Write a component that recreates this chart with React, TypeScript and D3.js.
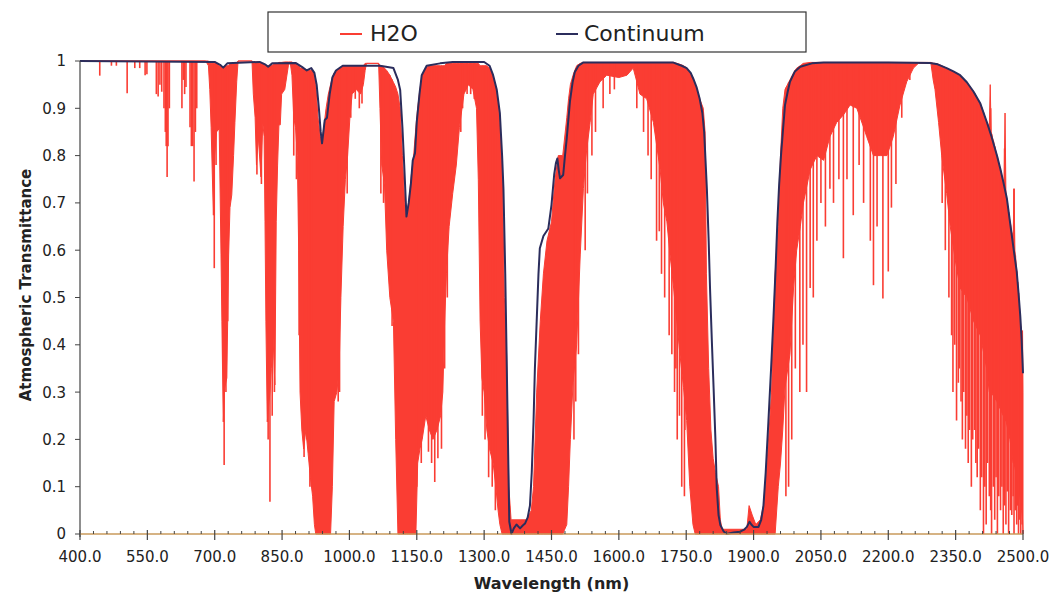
import React from "react";
import * as d3 from "d3";

const W = 1056;
const H = 597;

const xMajorTicks = [400, 550, 700, 850, 1000, 1150, 1300, 1450, 1600, 1750, 1900, 2050, 2200, 2350, 2500];
const yTickValues = [0, 0.1, 0.2, 0.3, 0.4, 0.5, 0.6, 0.7, 0.8, 0.9, 1];
const yTickLabels = ["0", "0.1", "0.2", "0.3", "0.4", "0.5", "0.6", "0.7", "0.8", "0.9", "1"];
const legendLabels = ["H2O", "Continuum"];

// Continuum transmittance: [wavelength nm, transmittance]
const continuum: [number, number][] = [
  [400, 1.0], [700, 0.998], [712, 0.992], [719, 0.986], [728, 0.995], [800, 0.998], [812, 0.993],
  [819, 0.988], [828, 0.995], [880, 0.996], [895, 0.987], [905, 0.98], [915, 0.985], [922, 0.975],
  [927, 0.95], [932, 0.9], [936, 0.85], [939, 0.826], [942, 0.85], [945, 0.875], [950, 0.88],
  [956, 0.93], [962, 0.965], [970, 0.98], [985, 0.99], [1068, 0.99], [1098, 0.985], [1108, 0.96],
  [1113, 0.939], [1118, 0.86], [1122, 0.78], [1127, 0.671], [1132, 0.7], [1137, 0.742],
  [1141, 0.79], [1146, 0.805], [1150, 0.872], [1156, 0.93], [1161, 0.97], [1172, 0.99],
  [1202, 0.995], [1230, 0.998], [1300, 0.998], [1312, 0.99], [1320, 0.97], [1328, 0.94],
  [1335, 0.89], [1340, 0.8], [1343, 0.73], [1347, 0.55], [1350, 0.378], [1353, 0.2],
  [1356, 0.026], [1361, 0.0], [1366, 0.012], [1372, 0.02], [1380, 0.012], [1386, 0.018],
  [1391, 0.022], [1397, 0.035], [1402, 0.06], [1406, 0.13], [1410, 0.237], [1413, 0.35],
  [1417, 0.45], [1421, 0.55], [1424, 0.604], [1432, 0.63], [1443, 0.646], [1450, 0.696],
  [1456, 0.76], [1460, 0.785], [1463, 0.794], [1466, 0.77], [1469, 0.752], [1476, 0.759],
  [1480, 0.8], [1484, 0.837], [1491, 0.914], [1497, 0.955], [1502, 0.977], [1510, 0.99],
  [1521, 0.997], [1720, 0.997], [1740, 0.99], [1751, 0.985], [1760, 0.975], [1766, 0.962],
  [1773, 0.945], [1780, 0.92], [1786, 0.89], [1790, 0.85], [1793, 0.79], [1796, 0.73],
  [1800, 0.62], [1803, 0.52], [1807, 0.41], [1811, 0.308], [1815, 0.2], [1818, 0.097],
  [1822, 0.04], [1826, 0.019], [1833, 0.006], [1840, 0.0], [1855, 0.003], [1870, 0.005],
  [1880, 0.01], [1885, 0.015], [1891, 0.026], [1895, 0.02], [1900, 0.015], [1911, 0.015],
  [1917, 0.03], [1922, 0.06], [1927, 0.13], [1933, 0.237], [1939, 0.35], [1944, 0.45],
  [1949, 0.56], [1953, 0.66], [1957, 0.74], [1961, 0.8], [1966, 0.86], [1970, 0.907],
  [1976, 0.935], [1981, 0.956], [1992, 0.978], [2004, 0.988], [2030, 0.995], [2056, 0.997],
  [2200, 0.997], [2293, 0.996], [2310, 0.993], [2330, 0.985], [2345, 0.978], [2360, 0.97],
  [2375, 0.955], [2390, 0.935], [2405, 0.91], [2419, 0.872], [2430, 0.84], [2442, 0.8],
  [2450, 0.77], [2456, 0.745], [2464, 0.71], [2471, 0.66], [2478, 0.61], [2486, 0.555],
  [2490, 0.51], [2494, 0.46], [2497, 0.41], [2500, 0.34],
];

// H2O dense absorption bands: [wavelength nm, upper transmittance, lower transmittance]
const h2oBand: [number, number, number][] = [
  [400, 1, 1], [680, 1, 1], [686, 1, 0.99], [689, 0.995, 0.94], [692, 0.995, 0.86],
  [697, 0.995, 0.674], [700, 0.995, 0.8], [704, 0.995, 0.85], [710, 0.99, 0.857],
  [714, 0.988, 0.59], [716, 0.988, 0.45], [719, 0.986, 0.237], [722, 0.988, 0.308],
  [727, 0.99, 0.33], [731, 0.99, 0.59], [734, 0.995, 0.69], [738, 0.995, 0.717],
  [742, 0.995, 0.8], [745, 0.995, 0.87], [749, 0.995, 0.956], [752, 1, 1], [783, 1, 1],
  [786, 0.998, 0.93], [790, 0.998, 0.88], [793, 0.998, 0.78], [797, 0.998, 0.84],
  [803, 0.995, 0.755], [807, 0.995, 0.87], [810, 0.995, 0.84], [812, 0.992, 0.66],
  [814, 0.99, 0.45], [817, 0.99, 0.237], [820, 0.99, 0.27], [823, 0.99, 0.3],
  [826, 0.99, 0.35], [830, 0.992, 0.414], [834, 0.995, 0.315], [837, 0.995, 0.66],
  [840, 0.995, 0.78], [843, 0.997, 0.865], [846, 0.997, 0.865], [849, 0.997, 0.93],
  [856, 0.998, 0.94], [864, 0.998, 0.99], [868, 0.998, 0.998], [872, 0.998, 0.97],
  [876, 0.995, 0.88], [880, 0.995, 0.86], [884, 0.99, 0.8], [887, 0.99, 0.6],
  [890, 0.985, 0.3], [894, 0.985, 0.22], [898, 0.985, 0.18], [903, 0.982, 0.22],
  [908, 0.98, 0.17], [913, 0.98, 0.12], [918, 0.98, 0.08], [922, 0.97, 0.02],
  [925, 0.95, 0], [930, 0.88, 0], [935, 0.84, 0], [939, 0.83, 0], [943, 0.86, 0],
  [948, 0.9, 0], [953, 0.93, 0], [958, 0.95, 0], [962, 0.965, 0.1], [966, 0.975, 0.28],
  [972, 0.98, 0.3], [977, 0.985, 0.35], [981, 0.985, 0.5], [986, 0.99, 0.65],
  [991, 0.99, 0.75], [996, 0.99, 0.8], [1001, 0.99, 0.88], [1006, 0.99, 0.93],
  [1015, 0.99, 0.94], [1025, 0.99, 0.93], [1031, 0.99, 0.95], [1035, 0.995, 0.98],
  [1038, 0.995, 0.995], [1065, 0.995, 0.995], [1068, 0.99, 0.9], [1072, 0.99, 0.78],
  [1078, 0.985, 0.74], [1083, 0.98, 0.6], [1090, 0.97, 0.5], [1098, 0.955, 0.45],
  [1103, 0.945, 0.2], [1108, 0.93, 0], [1113, 0.9, 0], [1118, 0.8, 0], [1123, 0.7, 0],
  [1127, 0.67, 0], [1132, 0.7, 0], [1138, 0.76, 0], [1143, 0.8, 0], [1148, 0.86, 0],
  [1152, 0.9, 0.15], [1157, 0.94, 0.18], [1162, 0.97, 0.2], [1170, 0.985, 0.25],
  [1178, 0.99, 0.22], [1186, 0.99, 0.2], [1195, 0.99, 0.22], [1203, 0.99, 0.25],
  [1208, 0.99, 0.3], [1212, 0.99, 0.45], [1216, 0.995, 0.55], [1222, 0.995, 0.65],
  [1230, 0.995, 0.72], [1238, 0.995, 0.78], [1245, 0.995, 0.86], [1255, 0.995, 0.93],
  [1265, 0.995, 0.95], [1275, 0.995, 0.94], [1283, 0.995, 0.9], [1287, 0.995, 0.75],
  [1291, 0.99, 0.45], [1295, 0.99, 0.33], [1300, 0.99, 0.3], [1306, 0.99, 0.22],
  [1312, 0.985, 0.18], [1320, 0.97, 0.15], [1326, 0.94, 0.1], [1331, 0.91, 0.05],
  [1335, 0.87, 0.02], [1340, 0.78, 0], [1345, 0.5, 0], [1350, 0.38, 0], [1355, 0.1, 0],
  [1360, 0.03, 0], [1380, 0.03, 0], [1395, 0.03, 0], [1405, 0.05, 0], [1410, 0.1, 0],
  [1417, 0.3, 0], [1425, 0.45, 0], [1432, 0.55, 0], [1440, 0.62, 0], [1450, 0.66, 0],
  [1458, 0.75, 0], [1465, 0.8, 0], [1475, 0.8, 0], [1484, 0.88, 0.02], [1488, 0.92, 0.1],
  [1492, 0.95, 0.2], [1498, 0.97, 0.32], [1506, 0.99, 0.4], [1514, 0.995, 0.59],
  [1521, 0.997, 0.73], [1528, 0.997, 0.81], [1536, 0.997, 0.87], [1543, 0.997, 0.93],
  [1558, 0.997, 0.956], [1573, 0.997, 0.97], [1600, 0.997, 0.965], [1618, 0.997, 0.97],
  [1632, 0.997, 0.985], [1640, 0.997, 0.956], [1647, 0.997, 0.93], [1662, 0.997, 0.92],
  [1677, 0.997, 0.87], [1692, 0.997, 0.77], [1699, 0.997, 0.7], [1707, 0.997, 0.66],
  [1714, 0.997, 0.59], [1722, 0.997, 0.52], [1729, 0.995, 0.45], [1736, 0.993, 0.38],
  [1744, 0.99, 0.31], [1751, 0.985, 0.24], [1758, 0.975, 0.1], [1765, 0.965, 0.02],
  [1770, 0.95, 0], [1780, 0.92, 0], [1788, 0.9, 0], [1792, 0.85, 0], [1795, 0.55, 0],
  [1800, 0.35, 0], [1805, 0.22, 0], [1810, 0.16, 0], [1815, 0.13, 0], [1822, 0.1, 0],
  [1826, 0.03, 0], [1830, 0.01, 0], [1885, 0.01, 0], [1890, 0.06, 0], [1897, 0.04, 0],
  [1905, 0.02, 0], [1915, 0.03, 0], [1922, 0.06, 0], [1930, 0.15, 0], [1940, 0.3, 0],
  [1948, 0.55, 0], [1955, 0.65, 0.1], [1960, 0.8, 0.15], [1965, 0.9, 0.22],
  [1970, 0.94, 0.31], [1981, 0.96, 0.38], [1989, 0.975, 0.52], [1996, 0.985, 0.6],
  [2004, 0.99, 0.65], [2011, 0.995, 0.7], [2026, 0.997, 0.77], [2041, 0.997, 0.8],
  [2056, 0.997, 0.79], [2070, 0.997, 0.84], [2085, 0.997, 0.87], [2100, 0.997, 0.886],
  [2115, 0.997, 0.907], [2130, 0.997, 0.9], [2145, 0.997, 0.86], [2152, 0.997, 0.84],
  [2167, 0.997, 0.8], [2182, 0.997, 0.8], [2197, 0.997, 0.8], [2211, 0.997, 0.84],
  [2226, 0.997, 0.907], [2241, 0.997, 0.956], [2256, 0.997, 0.985], [2267, 0.997, 0.995],
  [2295, 0.997, 0.995], [2300, 0.995, 0.96], [2304, 0.995, 0.94], [2312, 0.993, 0.87],
  [2319, 0.99, 0.8], [2330, 0.985, 0.72], [2338, 0.98, 0.65], [2349, 0.975, 0.58],
  [2360, 0.97, 0.52], [2375, 0.955, 0.5], [2390, 0.935, 0.45], [2405, 0.91, 0.42],
  [2419, 0.872, 0.35], [2425, 0.86, 0.3], [2427, 0.95, 0.3], [2429, 0.85, 0.3],
  [2442, 0.8, 0.28], [2456, 0.745, 0.25], [2458, 0.74, 0.25], [2460, 0.89, 0.24],
  [2462, 0.72, 0.24], [2471, 0.66, 0.2], [2478, 0.62, 0.15], [2480, 0.73, 0.15],
  [2482, 0.6, 0.14], [2490, 0.51, 0.1], [2497, 0.41, 0.05], [2499, 0.43, 0.03], [2500, 0.3, 0],
];

// Individual H2O absorption lines: [wavelength nm, minimum transmittance]
const h2oLines: [number, number][] = [
  [444, 0.969], [470, 0.99], [481, 0.99], [505, 0.932], [522, 0.985], [533, 0.985],
  [545, 0.97], [549, 0.972], [570, 0.93], [574, 0.925], [578, 0.95], [582, 0.935],
  [587, 0.9], [590, 0.85], [592, 0.82], [594, 0.755], [596, 0.82], [599, 0.9],
  [627, 0.9], [630, 0.96], [633, 0.93], [636, 0.945], [645, 0.86], [648, 0.82],
  [651, 0.82], [654, 0.745], [657, 0.85], [660, 0.9],
  [699, 0.562], [703, 0.78], [718, 0.35], [721, 0.146], [725, 0.3], [729, 0.45],
  [794, 0.76], [804, 0.74], [819, 0.2], [823, 0.068], [828, 0.25], [833, 0.3],
  [876, 0.8], [882, 0.75], [888, 0.42], [899, 0.163], [905, 0.2], [912, 0.1], [916, 0.1],
  [975, 0.28], [978, 0.3], [995, 0.72], [1003, 0.88], [1013, 0.92], [1022, 0.9], [1028, 0.91],
  [1070, 0.72], [1076, 0.7], [1090, 0.53], [1095, 0.44], [1150, 0.1], [1160, 0.15],
  [1176, 0.174], [1183, 0.15], [1190, 0.11], [1197, 0.16], [1205, 0.18], [1212, 0.35],
  [1218, 0.5], [1248, 0.85], [1252, 0.9], [1262, 0.93], [1270, 0.93], [1278, 0.92],
  [1296, 0.25], [1302, 0.2], [1310, 0.12], [1318, 0.1], [1325, 0.05],
  [1500, 0.2], [1504, 0.28], [1510, 0.38], [1525, 0.6], [1530, 0.72], [1540, 0.8],
  [1548, 0.85], [1565, 0.9], [1580, 0.93], [1590, 0.94], [1640, 0.9], [1655, 0.85],
  [1665, 0.8], [1672, 0.75], [1684, 0.62], [1690, 0.64], [1695, 0.55], [1702, 0.5],
  [1712, 0.42], [1718, 0.38], [1724, 0.3], [1727, 0.35], [1730, 0.2], [1735, 0.25],
  [1740, 0.1], [1746, 0.08], [1747, 0.22],
  [1972, 0.08], [1978, 0.1], [1985, 0.2], [1993, 0.35], [2003, 0.3], [2010, 0.4],
  [2018, 0.3], [2026, 0.52], [2033, 0.5], [2041, 0.62], [2050, 0.7], [2060, 0.65],
  [2070, 0.73], [2078, 0.7], [2090, 0.75], [2100, 0.583], [2108, 0.75], [2122, 0.674],
  [2135, 0.78], [2145, 0.7], [2160, 0.62], [2167, 0.526], [2175, 0.65], [2188, 0.498],
  [2200, 0.555], [2207, 0.69], [2217, 0.74], [2230, 0.88], [2248, 0.96],
  [2320, 0.7], [2327, 0.6], [2335, 0.5], [2341, 0.42], [2344, 0.3], [2348, 0.4],
  [2352, 0.24], [2356, 0.32], [2358, 0.35], [2362, 0.28], [2365, 0.2], [2368, 0.3],
  [2372, 0.18], [2375, 0.25], [2378, 0.15], [2381, 0.22], [2385, 0.1], [2388, 0.2],
  [2392, 0.22], [2395, 0.15], [2398, 0.12], [2401, 0.18], [2405, 0.05], [2408, 0.12],
  [2412, 0.0], [2415, 0.1], [2418, 0.02], [2421, 0.15], [2425, 0.08], [2428, 0.05],
  [2430, 0.0], [2434, 0.1], [2437, 0.03], [2440, 0.12], [2443, 0.0], [2446, 0.08],
  [2450, 0.05], [2453, 0.1], [2456, 0.0], [2459, 0.06], [2462, 0.02], [2465, 0.09],
  [2468, 0.0], [2472, 0.05], [2475, 0.04], [2478, 0.08], [2480, 0.0], [2483, 0.05],
  [2486, 0.02], [2488, 0.06], [2490, 0.0], [2493, 0.03], [2495, 0.0], [2498, 0.02],
];

const RED = "#fa3d33";
const NAVY = "#2b2d5c";
const FONT = "'DejaVu Sans', Arial, sans-serif";

export default function App() {
  const left = 80, right = 1023, top = 61, bottom = 534;
  const x = d3.scaleLinear().domain([400, 2500]).range([left, right]);
  const y = d3.scaleLinear().domain([0, 1]).range([bottom, top]);

  const area = d3.area<[number, number, number]>()
    .x((d) => x(d[0]))
    .y0((d) => y(d[2]))
    .y1((d) => y(d[1]));

  const line = d3.line<[number, number]>()
    .x((d) => x(d[0]))
    .y((d) => y(d[1]));

  const upperAt = d3.scaleLinear()
    .domain(h2oBand.map((d) => d[0]))
    .range(h2oBand.map((d) => d[1]));

  const minorTicks = d3.range(400, 2501, 30).filter((v) => (v - 400) % 150 !== 0);

  return (
    <svg width={W} height={H} style={{ position: "absolute", left: 0, top: 0, background: "#fff" }}>
      {/* Legend */}
      <rect x={268} y={12} width={538} height={40} fill="#fff" stroke="#333" strokeWidth={1.2} />
      <line x1={340} x2={362} y1={34} y2={34} stroke={RED} strokeWidth={2} />
      <text x={370} y={41} fontFamily={FONT} fontSize={22} fill="#222">{legendLabels[0]}</text>
      <line x1={556} x2={578} y1={34} y2={34} stroke={NAVY} strokeWidth={2} />
      <text x={584} y={41} fontFamily={FONT} fontSize={22} fill="#222">{legendLabels[1]}</text>

      {/* H2O */}
      <path d={area(h2oBand) || ""} fill={RED} stroke={RED} strokeWidth={1} />
      {h2oLines.map((d, i) => (
        <line key={i} x1={x(d[0])} x2={x(d[0])} y1={y(upperAt(d[0]))} y2={y(d[1])}
          stroke={RED} strokeWidth={1.6} />
      ))}

      {/* Continuum */}
      <path d={line(continuum) || ""} fill="none" stroke={NAVY} strokeWidth={2} strokeLinejoin="round" />

      {/* Axes */}
      <line x1={left} x2={left} y1={top} y2={bottom + 3} stroke="#444" strokeWidth={1.2} />
      <line x1={left} x2={right} y1={bottom} y2={bottom} stroke="#c99a5b" strokeWidth={1.3} />
      {yTickValues.map((v, i) => (
        <g key={i}>
          <line x1={left - 5} x2={left} y1={y(v)} y2={y(v)} stroke="#444" strokeWidth={1} />
          <text x={left - 14} y={y(v)} dy="0.36em" textAnchor="end" fontFamily={FONT} fontSize={15} fill="#222">
            {yTickLabels[i]}
          </text>
        </g>
      ))}
      {minorTicks.map((v) => (
        <line key={v} x1={x(v)} x2={x(v)} y1={bottom - 3} y2={bottom} stroke="#444" strokeWidth={1} />
      ))}
      {xMajorTicks.map((v) => (
        <g key={v}>
          <line x1={x(v)} x2={x(v)} y1={bottom - 4} y2={bottom + 6} stroke="#444" strokeWidth={1.2} />
          <text x={x(v)} y={562} textAnchor="middle" fontFamily={FONT} fontSize={15} fill="#222">
            {v.toFixed(1)}
          </text>
        </g>
      ))}
      <text x={(left + right) / 2} y={589} textAnchor="middle" fontFamily={FONT} fontSize={16}
        fontWeight="bold" fill="#222">Wavelength (nm)</text>
      <text transform={`translate(31, 285) rotate(-90)`} textAnchor="middle" fontFamily={FONT}
        fontSize={15} fontWeight="bold" fill="#222">Atmospheric Transmittance</text>
    </svg>
  );
}
